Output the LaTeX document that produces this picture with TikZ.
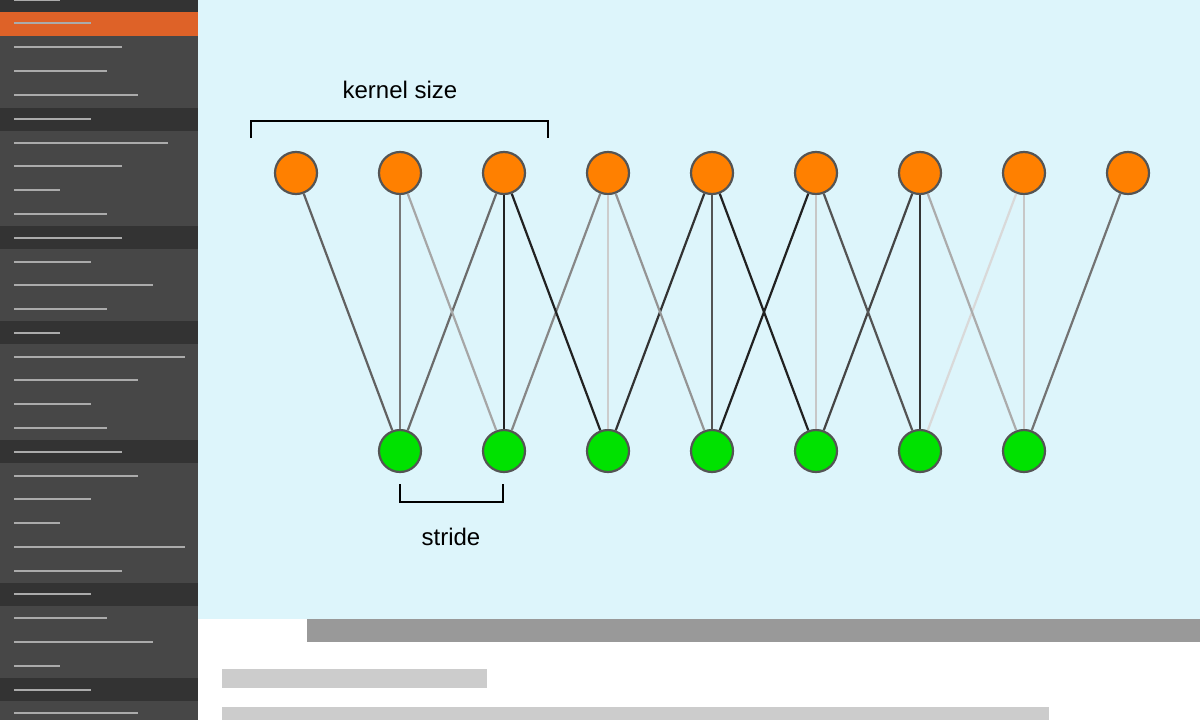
\documentclass[tikz,border=0pt]{standalone}
\usepackage{fontspec}
\setmainfont{Liberation Sans}
\definecolor{orng}{RGB}{222,98,40}
\definecolor{nodeor}{RGB}{255,128,0}
\definecolor{nodegr}{RGB}{0,226,0}
\definecolor{skyb}{RGB}{221,245,251}
\begin{document}
\begin{tikzpicture}[x=1pt,y=-1pt,
  top/.style={circle,draw=black!67,line width=2.2pt,fill=nodeor,minimum size=42pt,inner sep=0pt},
  bot/.style={circle,draw=black!67,line width=2.2pt,fill=nodegr,minimum size=42pt,inner sep=0pt},
  edge/.style={line width=2.2pt},
  lbl/.style={font=\fontsize{24}{28}\selectfont}]
\useasboundingbox (0,0) rectangle (1200,720);
\fill[white] (0,0) rectangle (1200,720);
% sidebar
\fill[black!72] (0,0) rectangle (198,720);
\foreach \a/\b in {0/12,108/131,226/249,321/344,440/463,583/606,678/701}
  \fill[black!80] (0,\a) rectangle (198,\b);
\fill[orng] (0,12) rectangle (198,36);
\foreach \y/\e in {0/60,23/91,47/122,71/107,95/138,119/91,143/168,166/122,190/60,214/107,238/122,262/91,285/153,309/107,333/60,357/185,380/138,404/91,428/107,452/122,476/138,499/91,523/60,547/185,571/122,594/91,618/107,642/153,666/60,690/91,713/138}
  \draw[black!33,line width=2.5pt] (14,\y) -- (\e,\y);
% main region
\fill[skyb] (198,0) rectangle (1200,619);
\fill[black!40] (307,619) rectangle (1200,642);
\fill[black!20] (222,669) rectangle (487,688);
\fill[black!20] (222,707) rectangle (1049,720);
% nodes
\foreach \i in {0,...,8} \node[top] (t\i) at ({296+104*\i},173) {};
\foreach \j in {0,...,6} \node[bot] (b\j) at ({400+104*\j},451) {};
% edges
\begin{scope}[on background layer/.style={}]
\foreach \t/\b/\c in {0/0/62,1/0/53,2/0/58,1/1/35,2/1/87,3/1/47,2/2/87,3/2/20,4/2/80,3/3/42,4/3/67,5/3/87,4/4/87,5/4/22,6/4/73,5/5/67,6/5/80,7/5/15,6/6/33,7/6/22,8/6/55}
  \draw[edge,black!\c] (t\t) -- (b\b);
\end{scope}
% labels
\coordinate (k1) at (251,138); \coordinate (k2) at (548,138);
\draw[line width=2pt] (k1) -- (251,121) -- (548,121) -- (k2);
\node[lbl] (ks) at (400,90) {kernel size};
\coordinate (s1) at (400,484); \coordinate (s2) at (503,484);
\draw[line width=2pt] (s1) -- (400,502) -- (503,502) -- (s2);
\node[lbl] (st) at (451,537) {stride};
\end{tikzpicture}
\end{document}
